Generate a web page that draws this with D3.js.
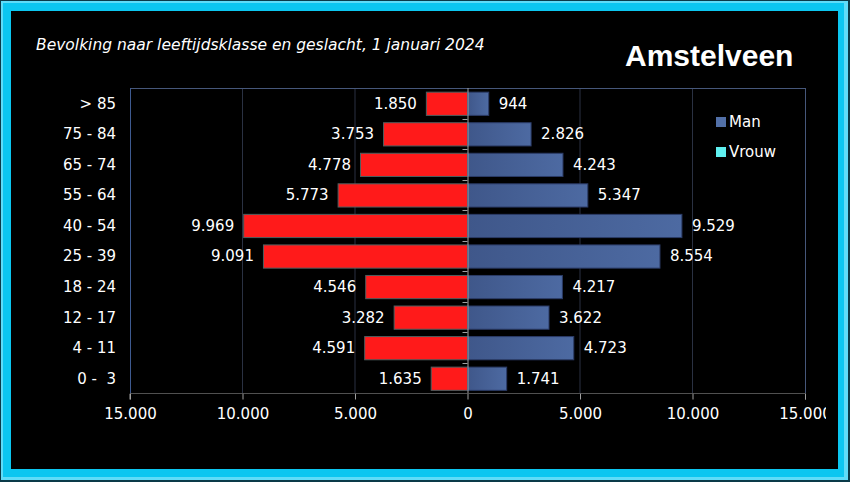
<!DOCTYPE html>
<html><head><meta charset="utf-8">
<script src="https://cdn.jsdelivr.net/npm/d3@7"></script>
<style>html,body{margin:0;padding:0;background:#000;overflow:hidden}</style>
</head><body>
<svg id="c" width="850" height="482"></svg>
<script>
const categories = ["> 85","75 - 84","65 - 74","55 - 64","40 - 54","25 - 39","18 - 24","12 - 17","4 - 11","0 -  3"];
const vrouw = [1850,3753,4778,5773,9969,9091,4546,3282,4591,1635];
const man = [944,2826,4243,5347,9529,8554,4217,3622,4723,1741];
const ticks = [-15000,-10000,-5000,0,5000,10000,15000];
const legendLabels = ["Man","Vrouw"];
const titleText = "Bevolking naar leeftijdsklasse en geslacht, 1 januari 2024";
const cityText = "Amstelveen";

const svg = d3.select("#c");
// frame
svg.append("rect").attr("x",0).attr("y",0).attr("width",850).attr("height",482).attr("fill","#0a3a48");
svg.append("rect").attr("x",1).attr("y",1).attr("width",847).attr("height",479).attr("fill","#5fdcf8");
svg.append("rect").attr("x",3).attr("y",3).attr("width",841).attr("height",474).attr("fill","#0cc6f0");
svg.append("rect").attr("x",11).attr("y",11).attr("width",827).attr("height",458).attr("fill","#000");

const fmt = v => d3.format(",")(v).replace(/,/g,".");
const x = d3.scaleLinear().domain([-15000,15000]).range([130,805]);
const y = d3.scaleBand().domain(categories).range([88,393.5]).paddingInner(0.24).paddingOuter(0.12);
const font = "'DejaVu Sans', Verdana, sans-serif";

const defs = svg.append("defs");
const g1 = defs.append("linearGradient").attr("id","blueG").attr("x1","0").attr("x2","1").attr("y1","0").attr("y2","0");
g1.append("stop").attr("offset","0").attr("stop-color","#3f578a");
g1.append("stop").attr("offset","1").attr("stop-color","#4d6aa2");
defs.append("clipPath").attr("id","clipR").append("rect").attr("x",0).attr("y",0).attr("width",826).attr("height",482);

// gridlines
svg.append("g").selectAll("line").data(ticks.filter(t=>t!==0 && Math.abs(t)!==15000)).join("line")
  .attr("x1",d=>x(d)).attr("x2",d=>x(d)).attr("y1",88).attr("y2",393)
  .attr("stroke","#2a3142").attr("stroke-width",1);
// plot border top/right/left
svg.append("line").attr("x1",130).attr("x2",805.5).attr("y1",88.5).attr("y2",88.5).attr("stroke","#46577a");
svg.append("line").attr("x1",805.5).attr("x2",805.5).attr("y1",88).attr("y2",393).attr("stroke","#46577a");
svg.append("line").attr("x1",130.5).attr("x2",130.5).attr("y1",88).attr("y2",393).attr("stroke","#3e5a90");

// bars
svg.append("g").selectAll("rect").data(categories).join("rect")
  .attr("x",(d,i)=>x(-vrouw[i])+0.5).attr("y",d=>y(d)+0.5)
  .attr("width",(d,i)=>x(0)-x(-vrouw[i])).attr("height",y.bandwidth())
  .attr("fill","#ff1a1a").attr("stroke","#4f5f60").attr("stroke-width",1);
svg.append("g").selectAll("rect").data(categories).join("rect")
  .attr("x",x(0)).attr("y",d=>y(d)+0.5)
  .attr("width",(d,i)=>x(man[i])-x(0)).attr("height",y.bandwidth())
  .attr("fill","url(#blueG)").attr("stroke","#2b3b66").attr("stroke-width",1);

// center axis
svg.append("line").attr("x1",x(0)+0.5).attr("x2",x(0)+0.5).attr("y1",88).attr("y2",393).attr("stroke","#a0a0a0");
const bounds = categories.slice(1).map((c)=>y(c) - y.step()*y.paddingInner()/2);
svg.append("g").selectAll("line").data(bounds).join("line")
  .attr("x1",x(0)-5).attr("x2",x(0)).attr("y1",d=>Math.round(d)+0.5).attr("y2",d=>Math.round(d)+0.5).attr("stroke","#a0a0a0");

// bottom axis
const ax = svg.append("g").attr("transform","translate(0,393.5)").attr("clip-path","url(#clipR)")
  .call(d3.axisBottom(x).tickValues(ticks).tickSize(6).tickFormat(d=>fmt(Math.abs(d))));
ax.select(".domain").attr("stroke","#a0a0a0").attr("d","M130,6V0H805.5V6");
ax.selectAll(".tick line").attr("stroke","#a0a0a0");
ax.selectAll(".tick text").attr("fill","#fff").attr("font-family",font).attr("font-size",15).attr("dy","1.1em").attr("y",9);

// category labels
svg.append("g").selectAll("text").data(categories).join("text")
  .attr("x",116).attr("y",d=>y(d)+y.bandwidth()/2).attr("dy","0.36em")
  .attr("text-anchor","end").attr("fill","#fff").attr("font-family",font).attr("font-size",15)
  .style("white-space","pre").text(d=>d);

// value labels
svg.append("g").selectAll("text").data(categories).join("text")
  .attr("x",(d,i)=>x(-vrouw[i])-9).attr("y",d=>y(d)+y.bandwidth()/2).attr("dy","0.36em")
  .attr("text-anchor","end").attr("fill","#fff").attr("font-family",font).attr("font-size",15)
  .text((d,i)=>fmt(vrouw[i]));
svg.append("g").selectAll("text").data(categories).join("text")
  .attr("x",(d,i)=>x(man[i])+10).attr("y",d=>y(d)+y.bandwidth()/2).attr("dy","0.36em")
  .attr("text-anchor","start").attr("fill","#fff").attr("font-family",font).attr("font-size",15)
  .text((d,i)=>fmt(man[i]));

// legend
const legColors = ["#5270a8","#5ff0f0"];
const lg = svg.append("g").selectAll("g").data(legendLabels).join("g")
  .attr("transform",(d,i)=>`translate(716,${117+i*30})`);
lg.append("rect").attr("width",10).attr("height",10).attr("fill",(d,i)=>legColors[i]);
lg.append("text").attr("x",13).attr("y",5).attr("dy","0.36em").attr("fill","#fff")
  .attr("font-family",font).attr("font-size",15).text(d=>d);

// titles
svg.append("text").attr("x",36).attr("y",50).attr("fill","#fff").attr("font-family",font)
  .attr("font-style","italic").attr("font-size",15.5).text(titleText);
svg.append("text").attr("x",625).attr("y",66).attr("fill","#fff").attr("font-family","'Liberation Sans', Arial, sans-serif")
  .attr("font-weight","bold").attr("font-size",30).text(cityText);
</script>
</body></html>
